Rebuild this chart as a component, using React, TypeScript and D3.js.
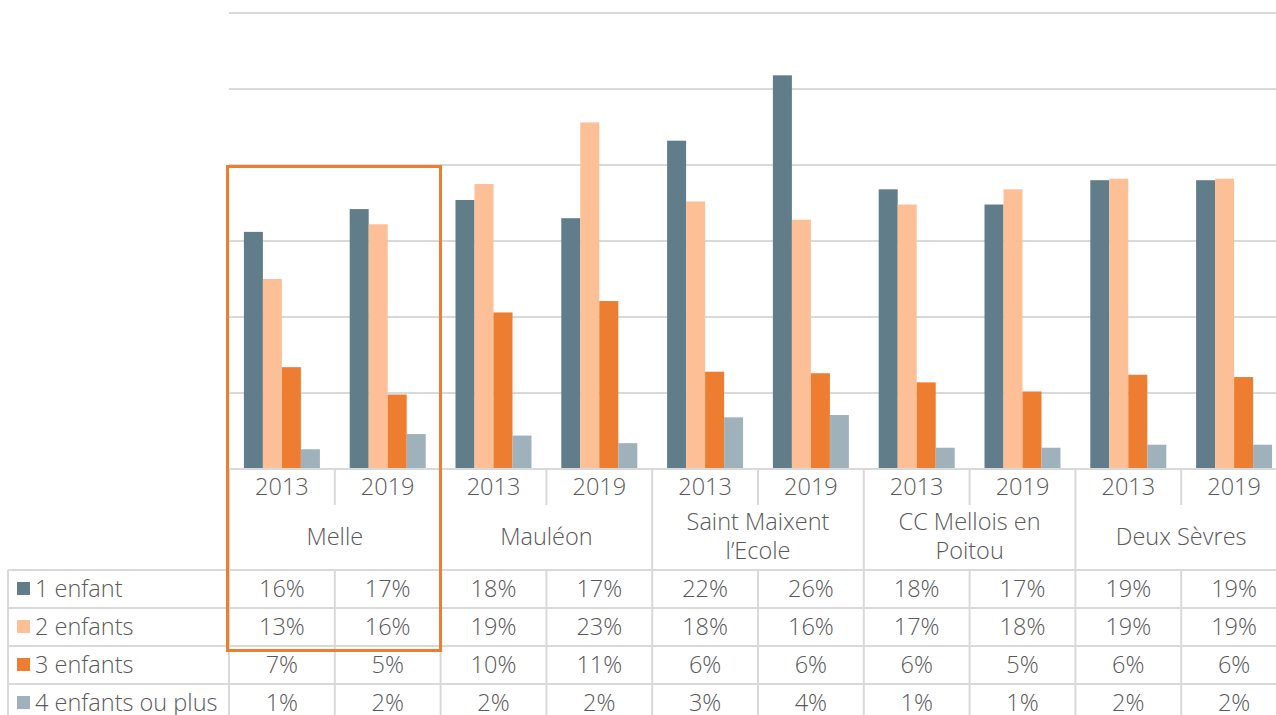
import { useRef, useEffect } from 'react';
import * as d3 from 'd3';

const places = ['Melle', 'Mauléon', 'Saint Maixent|l’Ecole', 'CC Mellois en|Poitou', 'Deux Sèvres'];
const years = ['2013', '2019'];
const seriesNames = ['1 enfant', '2 enfants', '3 enfants', '4 enfants ou plus'];
const seriesColors = ['#617d8a', '#fdbf96', '#ed7d31', '#9fb2bc'];

// bar heights (%), order: Melle 2013, Melle 2019, Mauléon 2013, ...
const oneChild = [15.6, 17.1, 17.7, 16.5, 21.6, 25.9, 18.4, 17.4, 19.0, 19.0];
const twoChildren = [12.5, 16.1, 18.75, 22.8, 17.6, 16.4, 17.4, 18.4, 19.1, 19.1];
const threeChildren = [6.7, 4.9, 10.3, 11.05, 6.4, 6.3, 5.7, 5.1, 6.2, 6.05];
const fourPlus = [1.3, 2.3, 2.2, 1.7, 3.4, 3.55, 1.4, 1.4, 1.6, 1.6];

// labels shown in the data table
const oneChildLabels = ['16%', '17%', '18%', '17%', '22%', '26%', '18%', '17%', '19%', '19%'];
const twoChildrenLabels = ['13%', '16%', '19%', '23%', '18%', '16%', '17%', '18%', '19%', '19%'];
const threeChildrenLabels = ['7%', '5%', '10%', '11%', '6%', '6%', '6%', '5%', '6%', '6%'];
const fourPlusLabels = ['1%', '2%', '2%', '2%', '3%', '4%', '1%', '1%', '2%', '2%'];

const yTicks = [0, 5, 10, 15, 20, 25, 30];

const W = 1276;
const H = 715;

export default function App() {
  const svgRef = useRef<SVGSVGElement>(null);

  useEffect(() => {
    const svg = d3.select(svgRef.current);
    svg.selectAll('*').remove();

    const values = [oneChild, twoChildren, threeChildren, fourPlus];
    const labels = [oneChildLabels, twoChildrenLabels, threeChildrenLabels, fourPlusLabels];
    const cols = places.flatMap((p, i) => years.map(y => `${i}-${y}`));

    const colW = 105.8;
    const left = 229;
    const x = d3.scaleBand().domain(cols).range([left, left + colW * cols.length]);
    const inner = d3.scaleBand().domain(seriesNames).range([0, colW]).paddingOuter(0.784);
    const y = d3.scaleLinear().domain([0, 30]).range([469, 13]);

    const font = '"Open Sans", Roboto, sans-serif';
    const grid = '#d9d9d9';
    const textColor = '#595959';

    // gridlines
    svg.append('g').selectAll('line').data(yTicks.slice(1)).join('line')
      .attr('x1', left).attr('x2', W)
      .attr('y1', d => y(d)).attr('y2', d => y(d))
      .attr('stroke', grid).attr('stroke-width', 2);

    // bars
    const bars = svg.append('g');
    values.forEach((vals, si) => {
      bars.selectAll(`rect.s${si}`).data(vals).join('rect')
        .attr('class', `s${si}`)
        .attr('x', (d, i) => (x(cols[i]) || 0) + (inner(seriesNames[si]) || 0))
        .attr('width', inner.bandwidth())
        .attr('y', d => y(d))
        .attr('height', d => y(0) - y(d))
        .attr('fill', seriesColors[si]);
    });

    // table lines
    const t = svg.append('g').attr('stroke', grid).attr('stroke-width', 2);
    const rowTop = 570;
    const rowH = 38;
    t.append('line').attr('x1', left).attr('x2', W).attr('y1', 469).attr('y2', 469);
    for (let r = 0; r < 4; r++) {
      t.append('line').attr('x1', 8).attr('x2', W)
        .attr('y1', rowTop + r * rowH).attr('y2', rowTop + r * rowH);
    }
    t.append('line').attr('x1', 8).attr('x2', 8).attr('y1', rowTop).attr('y2', H);
    cols.forEach((c, i) => {
      const cx = x(c) || 0;
      const isGroupEdge = i % 2 === 0;
      t.append('line').attr('x1', cx).attr('x2', cx)
        .attr('y1', 469).attr('y2', isGroupEdge ? H : 505);
      if (!isGroupEdge) {
        t.append('line').attr('x1', cx).attr('x2', cx).attr('y1', rowTop).attr('y2', H);
      }
    });
    const lastX = (x(cols[cols.length - 1]) || 0) + colW;
    t.append('line').attr('x1', lastX).attr('x2', lastX).attr('y1', 469).attr('y2', H);

    const txt = svg.append('g')
      .attr('font-family', font).attr('font-weight', 300)
      .attr('font-size', 23.5).attr('fill', textColor).attr('text-anchor', 'middle');

    // year labels
    cols.forEach((c, i) => {
      txt.append('text')
        .attr('x', (x(c) || 0) + colW / 2).attr('y', 495)
        .text(years[i % 2]);
    });

    // place labels
    places.forEach((p, i) => {
      const cx = (x(cols[i * 2]) || 0) + colW;
      const parts = p.split('|');
      parts.forEach((part, k) => {
        txt.append('text')
          .attr('x', cx)
          .attr('y', parts.length === 1 ? 545 : 530 + k * 29)
          .text(part);
      });
    });

    // data rows
    labels.forEach((row, r) => {
      const base = rowTop + r * rowH + 27;
      row.forEach((lab, i) => {
        txt.append('text')
          .attr('x', (x(cols[i]) || 0) + colW / 2).attr('y', base)
          .text(lab);
      });
      svg.append('rect')
        .attr('x', 17).attr('y', rowTop + r * rowH + 12)
        .attr('width', 13).attr('height', 13)
        .attr('fill', seriesColors[r]);
      txt.append('text')
        .attr('x', 35).attr('y', base).attr('text-anchor', 'start')
        .text(seriesNames[r]);
    });

    // highlight box around Melle
    svg.append('rect')
      .attr('x', 227.5).attr('y', 166.5)
      .attr('width', 213).attr('height', 484)
      .attr('fill', 'none').attr('stroke', '#ed7d31').attr('stroke-width', 3);
  }, []);

  return (
    <svg ref={svgRef} width={W} height={H}
      style={{ position: 'absolute', left: 0, top: 0, background: '#fff' }} />
  );
}
